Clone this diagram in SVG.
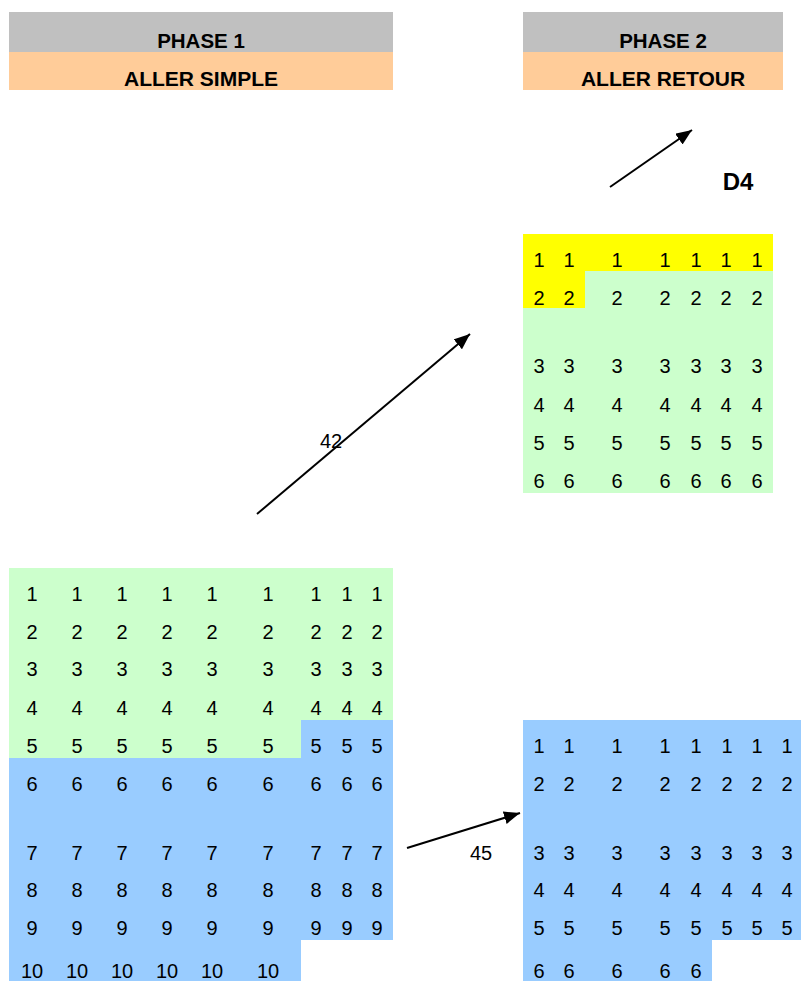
<svg xmlns="http://www.w3.org/2000/svg" width="801" height="981" viewBox="0 0 801 981">
<style>
.hd{font-family:"Liberation Sans",Arial,sans-serif;font-weight:bold;font-size:20.5px;text-anchor:middle;fill:#000}
.hd2{font-family:"Liberation Sans",Arial,sans-serif;font-weight:bold;font-size:21px;text-anchor:middle;fill:#000}
.n{font-family:"Liberation Sans",Arial,sans-serif;font-size:20px;text-anchor:middle;fill:#000}
.lbl{font-family:"Liberation Sans",Arial,sans-serif;font-size:20px;text-anchor:middle;fill:#000}
.gray{fill:#C0C0C0}.orange{fill:#FFCC99}.yellow{fill:#FFFF00}.green{fill:#CCFFCC}.blue{fill:#99CCFF}
.conn{stroke:#000;stroke-width:2;fill:none;marker-end:url(#ah)}
</style>
<defs>
<marker id="ah" markerUnits="userSpaceOnUse" markerWidth="17" markerHeight="13" refX="16" refY="6.5" orient="auto">
<path d="M0,0 L16,6.5 L0,13 z" fill="#000"/>
</marker>
</defs>
<rect width="801" height="981" fill="#fff"/>

<g id="header1">
<rect class="gray" x="9" y="12" width="384" height="40"/>
<rect class="orange" x="9" y="52" width="384" height="38"/>
<text class="hd" x="201" y="47.5">PHASE 1</text>
<text class="hd2" x="201" y="85.5">ALLER SIMPLE</text>
</g>

<g id="header2">
<rect class="gray" x="523" y="12" width="260" height="40"/>
<rect class="orange" x="523" y="52" width="260" height="38"/>
<text class="hd" x="663" y="47.5">PHASE 2</text>
<text class="hd2" x="663" y="85.5">ALLER RETOUR</text>
</g>

<g id="d4">
<text x="738" y="190" font-family="Liberation Sans, Arial, sans-serif" font-weight="bold" font-size="24px" text-anchor="middle">D4</text>
</g>

<g id="grid-phase2-top">
<rect class="green" x="523" y="234" width="250" height="259"/>
<rect class="yellow" x="523" y="234" width="250" height="37"/>
<rect class="yellow" x="523" y="270" width="62" height="38"/>
<g class="n">
<text x="539" y="267">1</text><text x="569" y="267">1</text><text x="617" y="267">1</text><text x="665" y="267">1</text><text x="696" y="267">1</text><text x="726" y="267">1</text><text x="757" y="267">1</text>
<text x="539" y="305">2</text><text x="569" y="305">2</text><text x="617" y="305">2</text><text x="665" y="305">2</text><text x="696" y="305">2</text><text x="726" y="305">2</text><text x="757" y="305">2</text>
<text x="539" y="373">3</text><text x="569" y="373">3</text><text x="617" y="373">3</text><text x="665" y="373">3</text><text x="696" y="373">3</text><text x="726" y="373">3</text><text x="757" y="373">3</text>
<text x="539" y="412">4</text><text x="569" y="412">4</text><text x="617" y="412">4</text><text x="665" y="412">4</text><text x="696" y="412">4</text><text x="726" y="412">4</text><text x="757" y="412">4</text>
<text x="539" y="450">5</text><text x="569" y="450">5</text><text x="617" y="450">5</text><text x="665" y="450">5</text><text x="696" y="450">5</text><text x="726" y="450">5</text><text x="757" y="450">5</text>
<text x="539" y="488">6</text><text x="569" y="488">6</text><text x="617" y="488">6</text><text x="665" y="488">6</text><text x="696" y="488">6</text><text x="726" y="488">6</text><text x="757" y="488">6</text>
</g>
</g>

<g id="grid-phase1">
<rect class="green" x="9" y="568" width="384" height="190"/>
<rect class="blue" x="301" y="720" width="92" height="220"/>
<rect class="blue" x="9" y="758" width="292" height="223"/>
<rect class="blue" x="300" y="758" width="93" height="182"/>
<g class="n">
<text x="32" y="601">1</text><text x="77" y="601">1</text><text x="122" y="601">1</text><text x="167" y="601">1</text><text x="212" y="601">1</text><text x="268" y="601">1</text><text x="316" y="601">1</text><text x="347" y="601">1</text><text x="377" y="601">1</text>
<text x="32" y="639">2</text><text x="77" y="639">2</text><text x="122" y="639">2</text><text x="167" y="639">2</text><text x="212" y="639">2</text><text x="268" y="639">2</text><text x="316" y="639">2</text><text x="347" y="639">2</text><text x="377" y="639">2</text>
<text x="32" y="676">3</text><text x="77" y="676">3</text><text x="122" y="676">3</text><text x="167" y="676">3</text><text x="212" y="676">3</text><text x="268" y="676">3</text><text x="316" y="676">3</text><text x="347" y="676">3</text><text x="377" y="676">3</text>
<text x="32" y="715">4</text><text x="77" y="715">4</text><text x="122" y="715">4</text><text x="167" y="715">4</text><text x="212" y="715">4</text><text x="268" y="715">4</text><text x="316" y="715">4</text><text x="347" y="715">4</text><text x="377" y="715">4</text>
<text x="32" y="753">5</text><text x="77" y="753">5</text><text x="122" y="753">5</text><text x="167" y="753">5</text><text x="212" y="753">5</text><text x="268" y="753">5</text><text x="316" y="753">5</text><text x="347" y="753">5</text><text x="377" y="753">5</text>
<text x="32" y="791">6</text><text x="77" y="791">6</text><text x="122" y="791">6</text><text x="167" y="791">6</text><text x="212" y="791">6</text><text x="268" y="791">6</text><text x="316" y="791">6</text><text x="347" y="791">6</text><text x="377" y="791">6</text>
<text x="32" y="860">7</text><text x="77" y="860">7</text><text x="122" y="860">7</text><text x="167" y="860">7</text><text x="212" y="860">7</text><text x="268" y="860">7</text><text x="316" y="860">7</text><text x="347" y="860">7</text><text x="377" y="860">7</text>
<text x="32" y="897">8</text><text x="77" y="897">8</text><text x="122" y="897">8</text><text x="167" y="897">8</text><text x="212" y="897">8</text><text x="268" y="897">8</text><text x="316" y="897">8</text><text x="347" y="897">8</text><text x="377" y="897">8</text>
<text x="32" y="935">9</text><text x="77" y="935">9</text><text x="122" y="935">9</text><text x="167" y="935">9</text><text x="212" y="935">9</text><text x="268" y="935">9</text><text x="316" y="935">9</text><text x="347" y="935">9</text><text x="377" y="935">9</text>
<text x="32" y="978">10</text><text x="77" y="978">10</text><text x="122" y="978">10</text><text x="167" y="978">10</text><text x="212" y="978">10</text><text x="268" y="978">10</text>
</g>
</g>

<g id="grid-phase2-bottom">
<rect class="blue" x="523" y="720" width="278" height="220"/>
<rect class="blue" x="523" y="939" width="189" height="42"/>
<g class="n">
<text x="539" y="753">1</text><text x="569" y="753">1</text><text x="617" y="753">1</text><text x="665" y="753">1</text><text x="696" y="753">1</text><text x="727" y="753">1</text><text x="757" y="753">1</text><text x="787" y="753">1</text>
<text x="539" y="791">2</text><text x="569" y="791">2</text><text x="617" y="791">2</text><text x="665" y="791">2</text><text x="696" y="791">2</text><text x="727" y="791">2</text><text x="757" y="791">2</text><text x="787" y="791">2</text>
<text x="539" y="860">3</text><text x="569" y="860">3</text><text x="617" y="860">3</text><text x="665" y="860">3</text><text x="696" y="860">3</text><text x="727" y="860">3</text><text x="757" y="860">3</text><text x="787" y="860">3</text>
<text x="539" y="897">4</text><text x="569" y="897">4</text><text x="617" y="897">4</text><text x="665" y="897">4</text><text x="696" y="897">4</text><text x="727" y="897">4</text><text x="757" y="897">4</text><text x="787" y="897">4</text>
<text x="539" y="935">5</text><text x="569" y="935">5</text><text x="617" y="935">5</text><text x="665" y="935">5</text><text x="696" y="935">5</text><text x="727" y="935">5</text><text x="757" y="935">5</text><text x="787" y="935">5</text>
<text x="539" y="978">6</text><text x="569" y="978">6</text><text x="617" y="978">6</text><text x="665" y="978">6</text><text x="696" y="978">6</text>
</g>
</g>

<g id="connectors">
<line class="conn" x1="610" y1="187" x2="692" y2="130"/>
<line class="conn" x1="257" y1="514" x2="470" y2="334"/>
<line class="conn" x1="407" y1="848" x2="520" y2="813"/>
<text class="lbl" x="331" y="448">42</text>
<text class="lbl" x="481" y="860">45</text>
</g>
</svg>
